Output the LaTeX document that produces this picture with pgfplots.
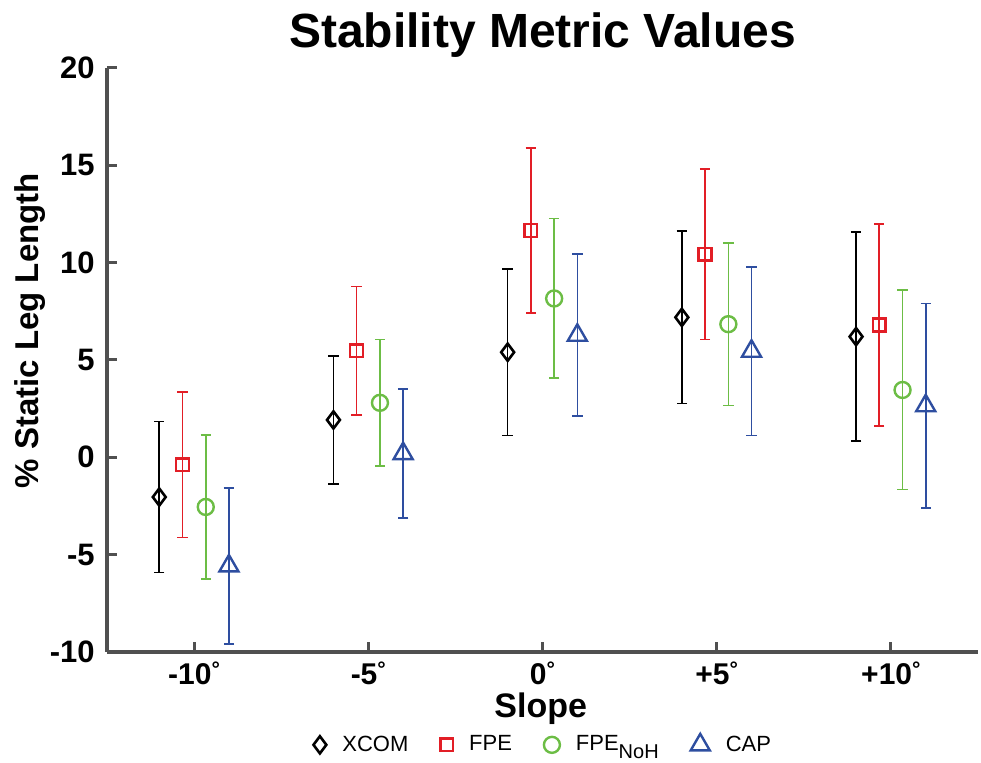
\documentclass[border=0pt]{standalone}
\usepackage{fontspec}
\setmainfont{Liberation Sans}
\usepackage{pgfplots}
\usepackage{pgfplotstable}
\pgfplotsset{compat=1.18}

\definecolor{axgray}{RGB}{80,80,80}
\definecolor{mRed}{RGB}{226,30,38}
\definecolor{mGreen}{RGB}{108,189,69}
\definecolor{mBlue}{RGB}{46,78,160}

% x = slope index + offset, y = mean, e = error half-length
\pgfplotstableread{
x y e
-0.2 -2.04 3.87
0.8 1.92 3.28
1.8 5.40 4.27
2.8 7.19 4.43
3.8 6.20 5.36
}\xcom
\pgfplotstableread{
x y e
-0.067 -0.38 3.73
0.933 5.47 3.31
1.933 11.65 4.24
2.933 10.43 4.37
3.933 6.80 5.20
}\fpe
\pgfplotstableread{
x y e
0.067 -2.55 3.70
1.067 2.80 3.26
2.067 8.16 4.10
3.067 6.84 4.18
4.067 3.46 5.12
}\fpenoh
\pgfplotstableread{
x y e
0.2 -5.58 4.00
1.2 0.19 3.31
2.2 6.27 4.16
3.2 5.45 4.32
4.2 2.65 5.25
}\cap

\newcommand{\dg}{\raisebox{0.55ex}{\fontsize{10.5}{10.5}\selectfont\textdegree}}

\begin{document}
\begin{tikzpicture}
\useasboundingbox (-53.5pt,-55.5pt) rectangle (437pt,326pt);
\begin{axis}[
  scale only axis,
  width=435.5pt, height=292pt,
  xmin=-0.5, xmax=4.5, ymin=-10, ymax=20,
  axis x line*=bottom, axis y line*=left,
  axis line style={-, draw=axgray, line width=1.8pt},
  tick align=inside,
  major tick length=5pt,
  tick style={draw=axgray, line width=1.5pt},
  xtick={0,1,2,3,4},
  xticklabels={-10\dg,-5\dg,0\dg,+5\dg,+10\dg},
  ytick={-10,-5,0,5,10,15,20},
  yticklabels={-10,-5,0,5,10,15,20},
  x tick label style={font=\bfseries\fontsize{15}{18}\selectfont, anchor=base, inner sep=0pt, yshift=-16.5pt},
  y tick label style={font=\bfseries\fontsize{15.5}{18}\selectfont, anchor=east, inner sep=0pt, xshift=-6pt},
  title={Stability Metric Values},
  title style={font=\bfseries\fontsize{24}{28}\selectfont, at={(axis description cs:0.5,1)}, anchor=base, yshift=4pt},
  xlabel={Slope},
  xlabel style={font=\bfseries\fontsize{17}{20}\selectfont, inner sep=0pt, at={(axis description cs:0.498,-0.113)}, anchor=base},
  ylabel={\% Static Leg Length},
  ylabel style={font=\bfseries\fontsize{16.5}{20}\selectfont, at={(axis description cs:-0.0792,0.55)}, anchor=base},
  legend style={at={(axis description cs:0.502,-0.159)}, anchor=center, draw=none, fill=none,
    legend columns=4, font=\fontsize{11}{13}\selectfont,
    /tikz/every odd column/.append style={column sep=6pt},
    /tikz/every even column/.append style={column sep=14pt}},
  every axis plot/.append style={only marks},
  error bars/y dir=both, error bars/y explicit,
  error bars/error bar style={line width=0.8pt},
  error bars/error mark options={rotate=90, mark size=2.6pt, line width=0.8pt},
]
\addplot[black, mark=diamond, mark size=4.3pt, mark options={line width=1.3pt}]
  table[x=x, y=y, y error=e] {\xcom};
\addplot[mRed, mark=square, mark size=3.2pt, mark options={line width=1.2pt}]
  table[x=x, y=y, y error=e] {\fpe};
\addplot[mGreen, mark=o, mark size=4pt, mark options={line width=1.2pt}]
  table[x=x, y=y, y error=e] {\fpenoh};
\addplot[mBlue, mark=triangle, mark size=5.5pt, mark options={line width=1.2pt}]
  table[x=x, y=y, y error=e] {\cap};
\legend{XCOM, FPE, FPE\raisebox{-0.35em}{\fontsize{10}{10}\selectfont NoH}, CAP}
\end{axis}
\end{tikzpicture}
\end{document}
